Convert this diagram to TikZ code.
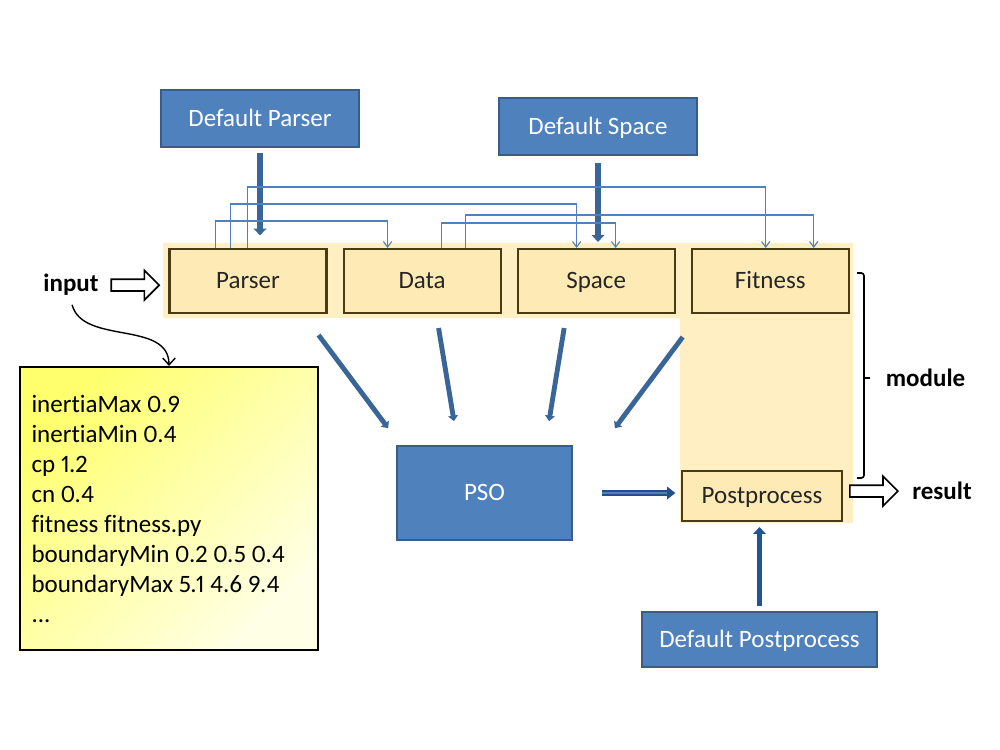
\documentclass[tikz,border=0pt]{standalone}
\usepackage{fontspec}
\setmainfont{Carlito}[Numbers=Proportional, Ligatures=NoCommon]
\usetikzlibrary{positioning,calc,arrows.meta,shapes.arrows}
\newcommand{\pxl}{0.72pt}
\definecolor{boxblue}{HTML}{4F81BD}
\definecolor{boxblueline}{HTML}{385D8A}
\definecolor{arrowblue}{HTML}{3A6597}
\definecolor{darkblue}{HTML}{1F5592}
\definecolor{pipeblue}{HTML}{24508A}
\definecolor{modfill}{HTML}{FDEAB5}
\definecolor{modline}{HTML}{4A3C12}
\definecolor{bandfill}{HTML}{FFEFC2}
\definecolor{cfgtop}{HTML}{FFFF6E}
\definecolor{cfgbottom}{HTML}{FFFFE6}

\begin{document}
\begin{tikzpicture}[x=\pxl, y=-\pxl,
    font=\fontsize{18}{21.6}\selectfont,
    module/.style={draw=modline, fill=modfill, line width=1.5pt, minimum width=157*\pxl, minimum height=64*\pxl, inner sep=0pt, text height=14pt, text depth=2.5pt, text=black!85},
    default/.style={draw=boxblueline, fill=boxblue, line width=1.2pt, text=white, minimum width=198*\pxl, minimum height=57*\pxl, inner sep=0pt, text height=14pt, text depth=2.5pt},
    label/.style={font=\fontsize{18}{21.6}\selectfont\bfseries},
    feed/.style={draw=arrowblue, line width=4pt, -{Triangle[length=5pt,width=9pt]}},
    call/.style={draw=arrowblue, line width=3.5pt, -{Triangle[length=4pt,width=7pt]}},
    link/.style={draw=boxblue, line width=0.8pt, -{Straight Barb[length=4pt,width=6pt]}},
    pipe/.style={draw=pipeblue, double=boxblue, line width=1.4pt, double distance=1.6pt, -{Triangle[length=6pt,width=9pt]}},
    blockarrow/.style={single arrow, draw, line width=1.2pt, fill=white, minimum height=48*\pxl, single arrow head extend=9*\pxl, inner sep=5*\pxl}]
    \useasboundingbox (0,0) rectangle (1000,750);

    % module band
    \fill[bandfill] (163,243) -- (853,243) -- (853,523) -- (680,523) -- (680,318) -- (163,318) -- cycle;

    % modules
    \node[module] (parser) at (248,281) {Parser};
    \node[module, right=10.8pt of parser] (data) {Data};
    \node[module, right=10.8pt of data] (space) {Space};
    \node[module, right=10.8pt of space] (fitness) {Fitness};
    \node[module, minimum width=160*\pxl, minimum height=50*\pxl] (post) at (762,496) {Postprocess};

    % defaults and core
    \node[default] (defparser) at (260,118.5) {Default Parser};
    \node[default] (defspace) at (598,126.5) {Default Space};
    \node[default, minimum width=235*\pxl, minimum height=55*\pxl] (defpost) at (759.5,639.5) {Default Postprocess};
    \node[default, minimum width=175*\pxl, minimum height=94*\pxl] (pso) at (484.5,493) {PSO};

    % config file
    \node[draw, line width=1.5pt, top color=cfgtop, bottom color=cfgbottom, shading angle=45,
          minimum width=298*\pxl, minimum height=283*\pxl, text width=198pt, inner xsep=8pt, align=flush left] (config) at (169,508.5)
        {inertiaMax 0.9\\inertiaMin 0.4\\cp 1.2\\cn 0.4\\fitness fitness.py\\boundaryMin 0.2 0.5 0.4\\boundaryMax 5.1 4.6 9.4\\...};

    % input and result
    \node[blockarrow, left=5.8pt of parser, yshift=-3pt] (inarrow) {};
    \node[label, left=5pt of inarrow] (input) {input};
    \node[blockarrow, right=4.3pt of post, yshift=3.5pt] (outarrow) {};
    \node[label, right=6pt of outarrow] (result) {result};

    % module brace
    \draw[line width=1.2pt, rounded corners=2pt] (857,273) -- (864,273) -- (864,478) -- (857,478);
    \draw[line width=1.2pt] (864,378) -- (870,378);
    \node[label, anchor=west] (modlabel) at (881,378) {module};

    % defaults into modules
    \draw[feed, shorten <=4pt, shorten >=9pt] (defparser.south) -- (defparser.south |- parser.north);
    \draw[feed, shorten <=5pt, shorten >=4.3pt] (defspace.south) -- (defspace.south |- space.north);
    \draw[feed, draw=darkblue, shorten <=3.6pt, shorten >=3.6pt] (defpost.north) -- (defpost.north |- post.south);

    % modules into PSO
    \draw[call] ($(parser.south east)+(-9,21)$) -- ($(pso.north west)+(-8,-17)$);
    \draw[call] ($(data.south)+(16.5,14)$) -- ($(pso.north)+(-30.5,-24)$);
    \draw[call] ($(space.south)+(-32,14)$) -- ($(pso.north)+(64.5,-24)$);
    \draw[call] ($(fitness.south west)+(-8,23)$) -- ($(pso.north east)+(42,-17)$);
    \draw[pipe, shorten <=21pt, shorten >=4pt] (pso.east) -- (pso.east -| post.west);

    % links between modules
    \draw[link] ($(parser.north west)+(47,0)$) -- ++(0,-27) -| ($(data.north west)+(45,0)$);
    \draw[link] ($(parser.north west)+(62,0)$) -- ++(0,-44) -| ($(space.north west)+(60,0)$);
    \draw[link] ($(parser.north west)+(79,0)$) -- ++(0,-61) -| ($(fitness.north west)+(75,0)$);
    \draw[link] ($(data.north west)+(99,0)$) -- ++(0,-25) -| ($(space.north west)+(99,0)$);
    \draw[link] ($(data.north west)+(123,0)$) -- ++(0,-33) -| ($(fitness.north west)+(123,0)$);

    % input file
    \draw[line width=1pt, -{Straight Barb[length=5pt,width=9pt]}, shorten <=3pt] (input.south) to[out=-75,in=90] (config.north);
\end{tikzpicture}
\end{document}
